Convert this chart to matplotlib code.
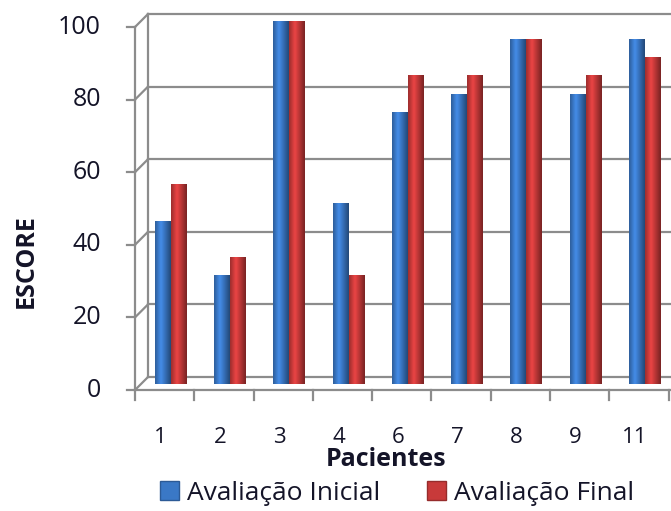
import numpy as np
import matplotlib.pyplot as plt
from matplotlib.patches import Patch

# dados
pacientes = ['1', '2', '3', '4', '6', '7', '8', '9', '11']
inicial = [45, 30, 100, 50, 75, 80, 95, 80, 95]
final = [55, 35, 100, 30, 85, 85, 95, 85, 90]
yticks = [0, 20, 40, 60, 80, 100]

cor_ini = '#3a78c6'
cor_fin = '#c83a3a'
cinza = '#8c8c8c'
txt = '#141428'

W, H = 671, 511
fig = plt.figure(figsize=(W / 100, H / 100), dpi=100)
ax = fig.add_axes([0, 0, 1, 1])
ax.axis('off')

# front plane in pixels
x0px, x1px = 135, 668.6
y0px, y100px = 390, 27
n = len(pacientes)
ux = n / (x1px - x0px)
uy = 100 / (y0px - y100px)
ax.set_xlim(-x0px * ux, (W - x0px) * ux)
ax.set_ylim(-(H - y0px) * uy, y0px * uy)

# depth offsets (pseudo 3d)
dxb, dyb = 13 * ux, 13 * uy
dxs, dys = 6 * ux, 6 * uy

# back wall grid
for t in yticks:
    ax.plot([dxb, n + 1], [t + dyb, t + dyb], color=cinza, lw=1.6, zorder=1)
    ax.plot([0, dxb], [t, t + dyb], color=cinza, lw=1.6, zorder=1)
    ax.plot([-8 * ux, 0], [t, t], color=cinza, lw=1.6, zorder=1)
    ax.text(-34 * ux, t, str(t), ha='right', va='center', fontsize=18,
            family='Open Sans', color=txt)
ax.plot([dxb, dxb], [dyb, 100 + dyb], color=cinza, lw=1.6, zorder=1)
ax.plot([0, 0], [0, 100], color=cinza, lw=1.6, zorder=1)
ax.plot([0, n + 1], [0, 0], color=cinza, lw=1.6, zorder=1)

# category ticks and labels
for i in range(n + 1):
    ax.plot([i, i], [0, -10 * uy], color=cinza, lw=1.6, zorder=1)
for i, lab in enumerate(pacientes):
    ax.text(i + 0.5 - 4 * ux, -47 * uy, lab, ha='center', va='center',
            fontsize=16, family='Open Sans', color=txt)

# bars with cylinder-like shading
bw = 16 * ux
x = np.arange(n) + 0.5 + dxs
shade = np.concatenate([np.linspace(0.8, 1.15, 6), np.linspace(1.15, 0.62, 10)])
for vals, cor, off in [(inicial, cor_ini, -bw / 2), (final, cor_fin, bw / 2)]:
    bars = ax.bar(x + off, vals, width=bw, bottom=dys, color=cor, zorder=3)
    base = np.array(plt.matplotlib.colors.to_rgb(cor))
    grad = np.clip(shade[:, None] * base[None, :], 0, 1)[None, :, :]
    for b in bars:
        l, bt = b.get_x(), b.get_y()
        im = ax.imshow(grad, extent=[l, l + b.get_width(), bt, bt + b.get_height()],
                       aspect='auto', interpolation='bicubic', zorder=4)
        im.set_clip_path(b)

ax.set_xlim(-x0px * ux, (W - x0px) * ux)
ax.set_ylim(-(H - y0px) * uy, y0px * uy)

fig.text(26 / W, 1 - 261 / H, 'ESCORE', rotation=90, ha='center', va='center',
         fontsize=18, fontweight='bold', family='Open Sans', color=txt)
fig.text(386 / W, 1 - 459 / H, 'Pacientes', ha='center', va='center',
         fontsize=18, fontweight='bold', family='Open Sans', color=txt)

handles = [Patch(facecolor=cor_ini, edgecolor='#2c5a96'),
           Patch(facecolor=cor_fin, edgecolor='#962c2c')]
fig.legend(handles, ['Avaliação Inicial', 'Avaliação Final'], ncol=2,
           loc='center', bbox_to_anchor=(397 / W, 1 - 493 / H), frameon=False,
           prop={'family': 'Open Sans', 'size': 19}, handlelength=0.7,
           handleheight=0.7, handletextpad=0.3, columnspacing=1.8,
           borderpad=0, labelcolor=txt)

fig.savefig('out.png', dpi=100)
